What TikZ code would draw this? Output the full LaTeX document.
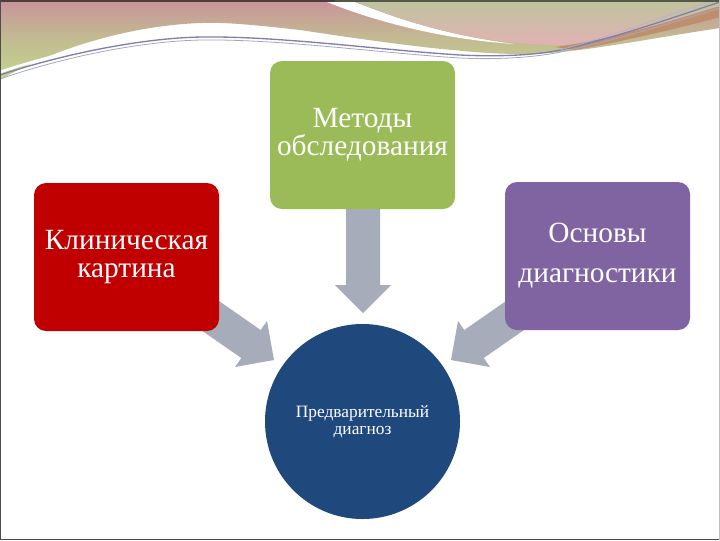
\documentclass[tikz,border=0pt]{standalone}
\usepackage{fontspec}
\setmainfont{Liberation Serif}
\definecolor{boxgreen}{HTML}{9BBB59}
\definecolor{boxred}{HTML}{C00000}
\definecolor{boxpurple}{HTML}{8064A2}
\definecolor{boxnavy}{HTML}{1F497D}
\definecolor{arrowgray}{HTML}{A7ACBB}
\definecolor{decopink}{HTML}{C8949A}
\definecolor{decogreen}{HTML}{BFD68C}
\definecolor{decosage}{HTML}{BEC49E}
\definecolor{decorose}{HTML}{E2B2B4}
\definecolor{decobrown}{HTML}{BD8A66}
\definecolor{decoline}{HTML}{8080AA}
\tikzset{
  cardbox/.style={rectangle, rounded corners=9pt, minimum width=138.75pt, minimum height=111pt,
    inner sep=0pt, align=center, text=white},
  roundbox/.style={circle, minimum size=146.25pt, inner sep=0pt, align=center, text=white, fill=boxnavy},
  blockarrow/.style={fill=arrowgray}
}
\begin{document}
\begin{tikzpicture}[x=0.75pt, y=-0.75pt]
\useasboundingbox (0,0) rectangle (720,540);
\fill[white] (0,0) rectangle (720,540);
% --- top decoration ---
\shade[top color=decopink, bottom color=decogreen, middle color=decopink!40!decogreen]
  (0,0) -- (720,0) -- (720,28)
  .. controls (640,40) and (580,53) .. (528,54)
  .. controls (470,55) and (380,42) .. (300,30)
  .. controls (255,25) and (225,22) .. (202,23)
  .. controls (130,25) and (50,50) .. (0,80) -- cycle;
\fill[white] (322,0) -- (350,0)
  .. controls (400,20) and (450,36) .. (515,44)
  .. controls (450,40) and (380,24) .. (322,0) -- cycle;
\shade[top color=decosage, bottom color=decorose]
  (350,0) .. controls (400,20) and (450,36) .. (510,42)
  .. controls (540,45) and (560,46) .. (580,44)
  .. controls (630,38) and (680,22) .. (720,10) -- (720,0) -- cycle;
\fill[decobrown, opacity=0.85] (555,47) .. controls (620,38) and (680,18) .. (720,6)
  -- (720,17) .. controls (680,28) and (620,42) .. (575,50) -- cycle;
\draw[white, line width=2pt] (0,72) .. controls (60,52) and (140,35) .. (202,34)
  .. controls (280,33) and (380,47) .. (460,52);
\draw[decoline, line width=1pt] (0,75) .. controls (60,55) and (140,38) .. (202,37)
  .. controls (280,36) and (380,50) .. (460,55)
  .. controls (500,57) and (540,55) .. (565,49)
  .. controls (625,35) and (680,15) .. (720,2);
\draw[decoline!70, line width=0.6pt] (0,79) .. controls (60,58) and (140,41) .. (202,40)
  .. controls (280,39) and (380,53) .. (460,58)
  .. controls (500,60) and (540,57) .. (565,51)
  .. controls (625,38) and (680,20) .. (720,8);
\draw[decoline!60, line width=0.5pt] (560,50) .. controls (625,32) and (680,10) .. (720,-1);
% frame
\draw[draw=decopink!40!black, line width=1.5pt] (0,0.7) -- (335,0.7);
\draw[draw=decosage!45!black, line width=1.5pt] (335,0.7) -- (720,0.7);
\draw[draw=black!70, line width=1pt] (0.7,0) -- (0.7,539.3) -- (720,539.3);
\draw[draw=black!25, line width=1pt] (719.3,0) -- (719.3,540);
% --- block arrows ---
\fill[blockarrow] (346,200) -- (380,200) -- (380,285) -- (391,285) -- (363,313) -- (335,285) -- (346,285) -- cycle;
\fill[blockarrow] (186.7,278.6) -- (260.7,330) -- (267,321) -- (274,360) -- (235,367) -- (241.3,358) -- (167.3,306.6) -- cycle;
\fill[blockarrow] (538.3,278.6) -- (464.3,330) -- (458,321) -- (451,360) -- (490,367) -- (483.7,358) -- (557.7,306.6) -- cycle;
% --- nodes ---
\node[cardbox, fill=boxgreen, font=\fontsize{22}{19.5}\selectfont] (methods) at (362.5,135) {Методы\\обследования};
\node[cardbox, fill=boxred, font=\fontsize{22}{21}\selectfont] (clinic) at (126.5,257) {Клиническая\\картина};
\node[cardbox, fill=boxpurple, font=\fontsize{22}{30}\selectfont] (basics) at (597.5,256) {Основы\\диагностики};
\node[roundbox, font=\fontsize{13}{12.75}\selectfont] (diag) at (362.5,421.5) {Предварительный\\диагноз};
\end{tikzpicture}
\end{document}
